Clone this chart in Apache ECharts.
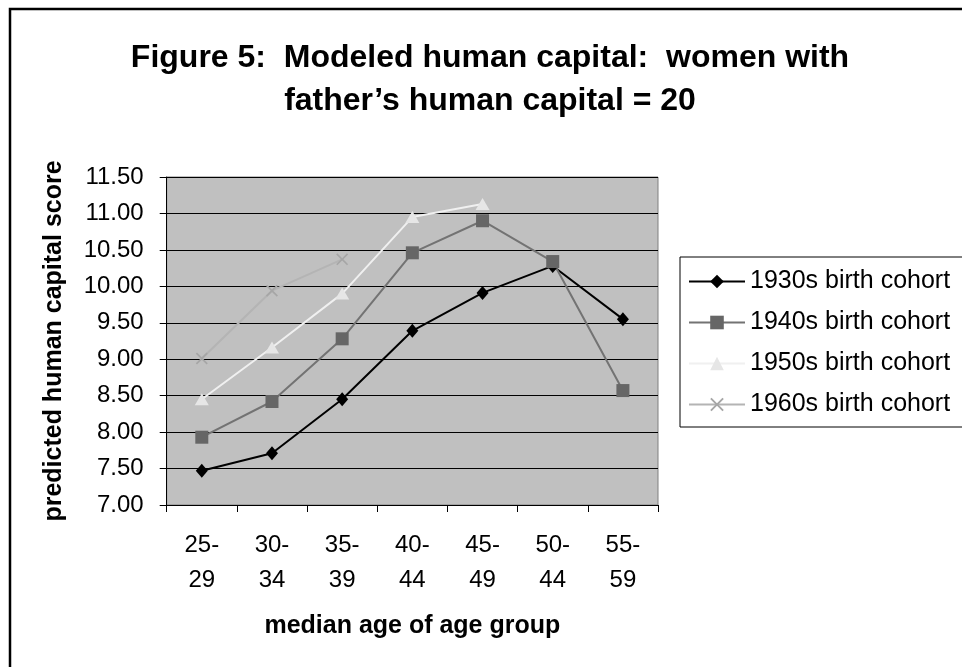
<!DOCTYPE html>
<html>
<head>
<meta charset="utf-8">
<script src="https://cdn.jsdelivr.net/npm/echarts@6/dist/echarts.min.js"></script>
<style>
  html, body { margin: 0; padding: 0; background: #fff; }
  #chart { width: 962px; height: 667px; }
</style>
</head>
<body>
<div id="chart"></div>
<script>
// age groups on the x axis
const ageGroups = ['25-\n29', '30-\n34', '35-\n39', '40-\n44', '45-\n49', '50-\n44', '55-\n59']

// predicted human capital score per birth cohort
const cohort1930s = [7.47, 7.71, 8.45, 9.39, 9.91, 10.28, 9.55]
const cohort1940s = [7.93, 8.42, 9.28, 10.46, 10.90, 10.34, 8.57]
const cohort1950s = [8.45, 9.16, 9.90, 10.95, 11.13, null, null]
const cohort1960s = [9.01, 9.94, 10.37, null, null, null, null]

const FONT = 'Liberation Sans'
const crossPath = 'path://M0,1 L1,0 L5,4 L9,0 L10,1 L6,5 L10,9 L9,10 L5,6 L1,10 L0,9 L4,5 Z'

const chart = echarts.init(document.getElementById('chart'))

chart.setOption({
  animation: false,
  backgroundColor: '#fff',
  textStyle: { fontFamily: FONT },
  title: {
    text: 'Figure 5:  Modeled human capital:  women with\nfather\u2019s human capital = 20',
    left: 490,
    top: 37,
    padding: 0,
    textAlign: 'center',
    textStyle: {
      fontFamily: FONT,
      fontSize: 32,
      fontWeight: 'bold',
      lineHeight: 43,
      color: '#000'
    }
  },
  graphic: [
    {
      type: 'rect',
      shape: { x: 10, y: 9, width: 1000, height: 700 },
      style: { fill: 'none', stroke: '#000', lineWidth: 2.5 },
      silent: true
    }
  ],
  legend: {
    orient: 'vertical',
    left: 680,
    top: 257,
    padding: [12, 40, 10, 8],
    itemWidth: 56,
    itemHeight: 17,
    itemGap: 16,
    borderColor: '#000',
    borderWidth: 1,
    backgroundColor: '#fff',
    textStyle: { fontFamily: FONT, fontSize: 25, lineHeight: 25, color: '#000' },
    data: ['1930s birth cohort', '1940s birth cohort', '1950s birth cohort', '1960s birth cohort']
  },
  grid: {
    left: 166.7,
    top: 177,
    right: 304,
    bottom: 162,
    show: true,
    backgroundColor: '#c0c0c0',
    borderColor: '#808080',
    borderWidth: 1
  },
  xAxis: {
    type: 'category',
    data: ageGroups,
    boundaryGap: true,
    name: 'median age of age group',
    nameLocation: 'middle',
    nameGap: 109,
    nameTextStyle: { fontFamily: FONT, fontSize: 25, fontWeight: 'bold', color: '#000' },
    axisLine: { lineStyle: { color: '#000', width: 1 } },
    axisTick: { show: true, length: 7, lineStyle: { color: '#000' } },
    axisLabel: { fontFamily: FONT, fontSize: 24, lineHeight: 35, color: '#000', margin: 23 },
    splitLine: { show: false }
  },
  yAxis: {
    type: 'value',
    min: 7,
    max: 11.5,
    interval: 0.5,
    name: 'predicted human capital score',
    nameLocation: 'middle',
    nameGap: 100,
    nameTextStyle: { fontFamily: FONT, fontSize: 25, fontWeight: 'bold', color: '#000' },
    axisLine: { show: true, lineStyle: { color: '#000', width: 1 } },
    axisTick: { show: true, length: 7, lineStyle: { color: '#000' } },
    axisLabel: {
      fontFamily: FONT,
      fontSize: 24,
      color: '#000',
      margin: 23,
      formatter: v => v.toFixed(2)
    },
    splitLine: { show: true, lineStyle: { color: '#000', width: 1 } }
  },
  series: [
    {
      name: '1930s birth cohort',
      type: 'line',
      data: cohort1930s,
      symbol: 'diamond',
      symbolSize: [12, 14],
      lineStyle: { color: '#000', width: 2 },
      itemStyle: { color: '#000' }
    },
    {
      name: '1940s birth cohort',
      type: 'line',
      data: cohort1940s,
      symbol: 'rect',
      symbolSize: 13,
      lineStyle: { color: '#737373', width: 2 },
      itemStyle: { color: '#666' }
    },
    {
      name: '1950s birth cohort',
      type: 'line',
      data: cohort1950s,
      symbol: 'triangle',
      symbolSize: [14, 12],
      lineStyle: { color: '#f0f0f0', width: 2 },
      itemStyle: { color: '#e6e6e6' }
    },
    {
      name: '1960s birth cohort',
      type: 'line',
      data: cohort1960s,
      symbol: crossPath,
      symbolSize: 12,
      lineStyle: { color: '#b4b4b4', width: 2 },
      itemStyle: { color: '#a6a6a6' }
    }
  ]
})
</script>
</body>
</html>
